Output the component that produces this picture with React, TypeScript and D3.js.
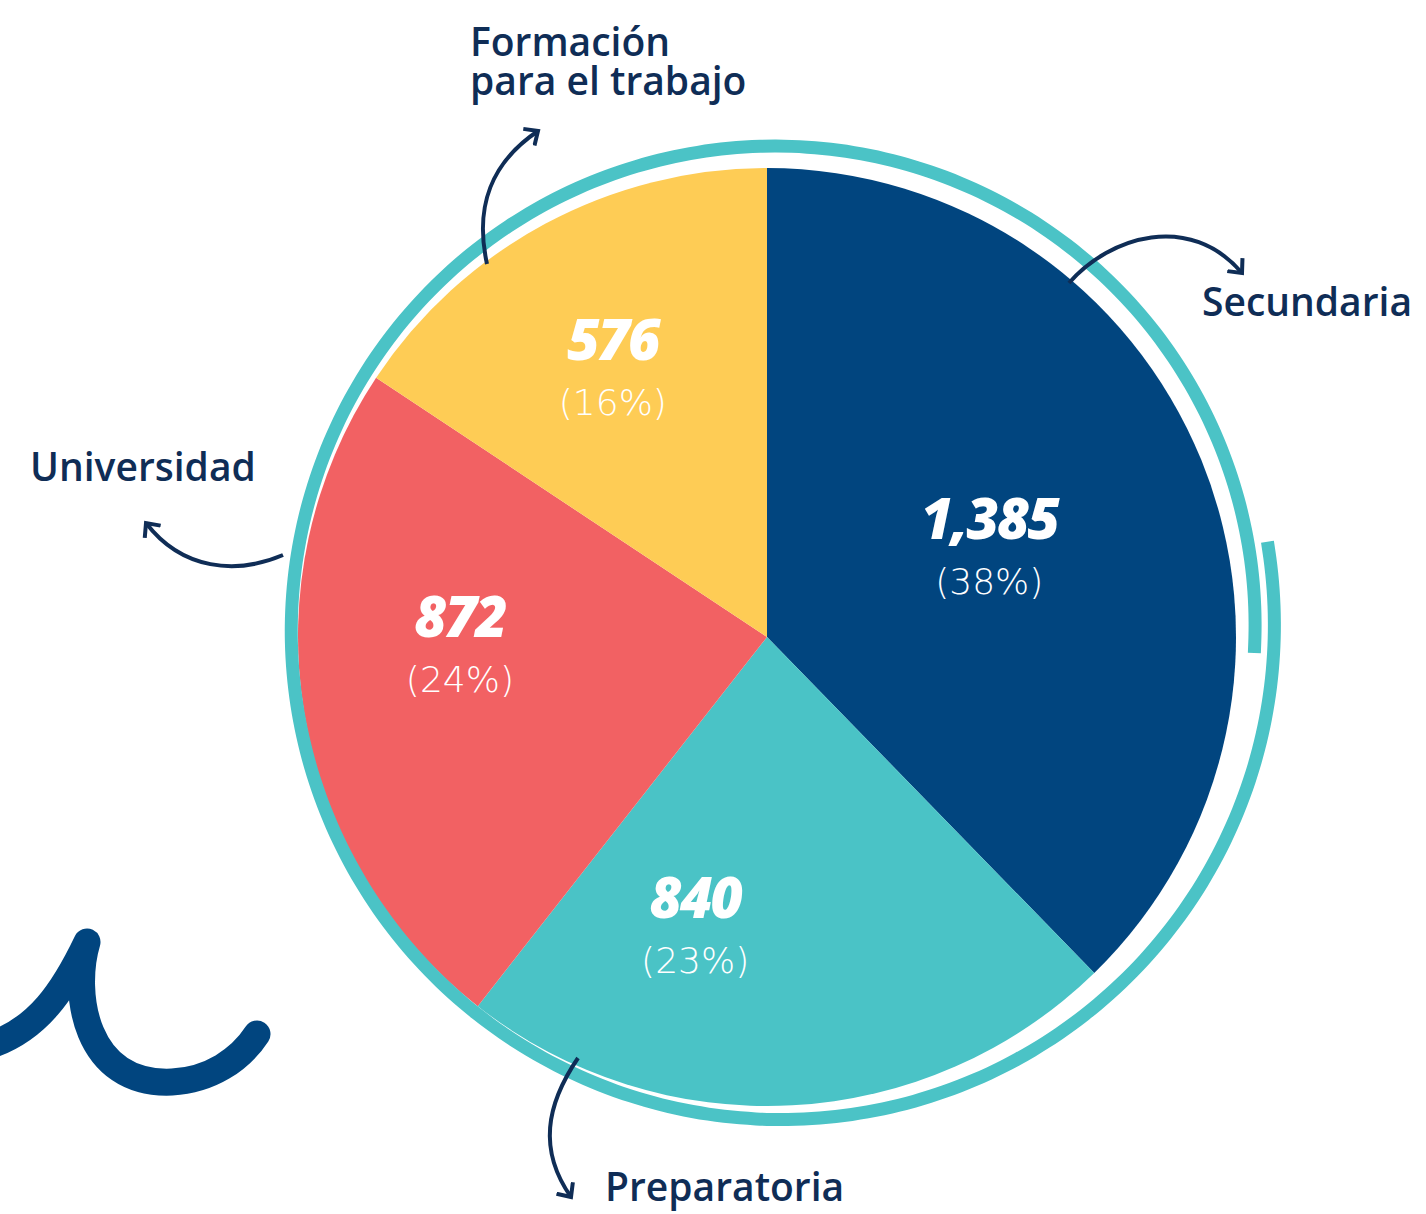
import React from 'react';
import * as d3 from 'd3';

// categories clockwise from 12 o'clock
const categories = ['Secundaria', 'Preparatoria', 'Universidad', 'Formación para el trabajo'];
const students = [1385, 840, 872, 576];
const sliceColors = ['#01457f', '#4ac3c6', '#f26163', '#fecc55'];

const W = 1426;
const H = 1214;
const cx = 767;
const cy = 637;
const R = 469;
const navy = '#0f2d56';

// label nudges (layout only)
const labelPos = {
  Secundaria: { r: 240, dx: 0, dy: 0 },
  Preparatoria: { r: 300, dx: -88, dy: -11 },
  Universidad: { r: 305, dx: -6, dy: -41 },
  'Formación para el trabajo': { r: 309, dx: -8, dy: 3 },
};

const App = () => {
  const total = d3.sum(students);
  const pie = d3.pie<number>().sort(null).value((d) => d);
  const arcs = pie(students);
  const arc = d3.arc<d3.PieArcDatum<number>>().innerRadius(0).outerRadius(R);

  // hand drawn ring: a slight spiral around the pie
  const ringCx = 778;
  const ringCy = 628;
  const a0 = (80 * Math.PI) / 180;
  const a1 = (453 * Math.PI) / 180;
  const ringPts = d3.range(0, 1.0001, 0.005).map((t) => {
    const a = a0 + (a1 - a0) * t;
    const r = 497 - 20 * t;
    return [a, r] as [number, number];
  });
  const ringPath = d3.lineRadial<[number, number]>().angle((d) => d[0]).radius((d) => d[1]).curve(d3.curveBasis)(ringPts);

  return (
    <svg width={W} height={H} style={{ position: 'absolute', left: 0, top: 0, background: '#fff' }}>
      <defs>
        <marker id="head" viewBox="-12 -12 24 24" markerWidth={24} markerHeight={24} markerUnits="userSpaceOnUse" orient="auto" refX={0} refY={0}>
          <path d="M-11,-10 L0,0 L-11,10" fill="none" stroke={navy} strokeWidth={4} strokeLinecap="butt" />
        </marker>
      </defs>

      <g transform={`translate(${cx},${cy})`}>
        {arcs.map((a, i) => (
          <path key={categories[i]} d={arc(a) || ''} fill={sliceColors[i]} />
        ))}
      </g>

      <path d={ringPath || ''} transform={`translate(${ringCx},${ringCy})`} fill="none" stroke="#4bc3c6" strokeWidth={13} strokeLinecap="butt" />

      <g transform={`translate(${cx},${cy})`}>
        {arcs.map((a, i) => {
          const p = labelPos[categories[i]];
          const mid = (a.startAngle + a.endAngle) / 2;
          const x = p.r * Math.sin(mid) + p.dx;
          const y = -p.r * Math.cos(mid) + p.dy;
          const pct = Math.round((students[i] / total) * 100);
          return (
            <g key={categories[i]} transform={`translate(${x},${y})`} fill="#fff" textAnchor="middle">
              <text y={-8} fontFamily="'Open Sans', sans-serif" fontStyle="italic" fontWeight={800} fontSize={56} letterSpacing={-2}>
                {d3.format(',')(students[i])}
              </text>
              <text y={47} fontFamily="'DejaVu Sans', sans-serif" fontWeight={200} fontSize={36}>
                ({pct}%)
              </text>
            </g>
          );
        })}
      </g>

      {/* arrows */}
      <g fill="none" stroke={navy} strokeWidth={4} strokeLinecap="butt">
        <path d="M487,264 C474,205 492,162 538,131" markerEnd="url(#head)" />
        <path d="M1069,283 C1110,236 1190,212 1242,273" markerEnd="url(#head)" />
        <path d="M283,555 C236,575 182,570 146,523" markerEnd="url(#head)" />
        <path d="M578,1058 C546,1105 538,1150 571,1197" markerEnd="url(#head)" />
      </g>

      {/* squiggle */}
      <path d="M-12,1046 C38,1030 64,990 87,942 C72,992 84,1086 172,1082 C210,1080 240,1060 257,1034" fill="none" stroke="#01457f" strokeWidth={27} strokeLinecap="round" strokeLinejoin="round" />

      <g fill={navy} fontFamily="'Open Sans', sans-serif" fontWeight={600} fontSize={39}>
        <text x={470} y={56}>
          <tspan x={470}>Formación</tspan>
          <tspan x={470} dy={39}>para el trabajo</tspan>
        </text>
        <text x={1202} y={316}>Secundaria</text>
        <text x={30} y={481}>Universidad</text>
        <text x={605} y={1201}>Preparatoria</text>
      </g>
    </svg>
  );
};

export default App;
